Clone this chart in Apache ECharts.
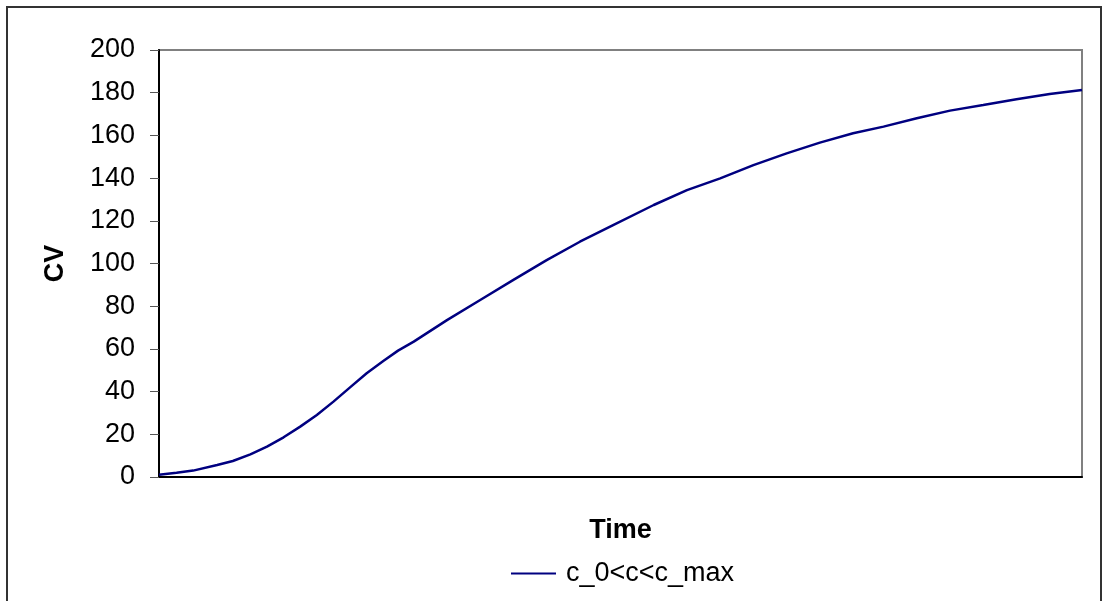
<!DOCTYPE html>
<html>
<head>
<meta charset="utf-8">
<script src="https://cdn.jsdelivr.net/npm/echarts@6/dist/echarts.min.js"></script>
<style>
  html, body { margin: 0; padding: 0; background: #fff; }
  #main { width: 1106px; height: 601px; }
</style>
</head>
<body>
<div id="main"></div>
<script>
// time steps (no labels on the x axis in the original, 0..100 is just the span)
var timeSteps = [0, 1.9, 3.7, 6.3, 8.0, 9.9, 11.7, 13.5, 15.3, 17.1, 18.9, 20.7, 22.5, 24.3,
  25.9, 27.6, 31.2, 34.8, 38.4, 42.0, 45.6, 49.2, 53.6, 57.2, 60.8, 64.4, 68.0, 71.6,
  75.2, 78.5, 82.1, 85.7, 89.3, 92.9, 96.5, 100];
// CV values
var cvValues = [1.0, 2.0, 3.0, 5.6, 7.5, 10.6, 14.2, 18.6, 23.6, 29.0, 35.3, 42.0, 48.6, 54.3,
  59.2, 63.4, 73.5, 82.9, 92.3, 101.6, 110.2, 118.0, 127.4, 134.4, 139.9, 146.1, 151.6, 156.6,
  161.0, 164.1, 168.0, 171.6, 174.2, 176.9, 179.4, 181.3];
var seriesName = 'c_0<c<c_max';

var myChart = echarts.init(document.getElementById('main'));

var pts = timeSteps.map(function (t, i) { return [t, cvValues[i]]; });

var font = '"Liberation Sans", Arial, sans-serif';

var option = {
  animation: false,
  textStyle: { fontFamily: font },
  graphic: [
    {
      type: 'rect',
      shape: { x: 7, y: 7, width: 1094, height: 700 },
      style: { fill: 'none', stroke: '#333', lineWidth: 2 },
      silent: true
    }
  ],
  grid: {
    left: 159, right: 24, top: 50, bottom: 124,
    show: true,
    borderColor: '#808080',
    borderWidth: 2
  },
  legend: {
    left: 506,
    top: 555,
    icon: 'rect',
    itemWidth: 45,
    itemHeight: 2,
    data: [seriesName],
    textStyle: { fontSize: 27, color: '#000', fontFamily: font, padding: [0, 0, 0, 5] }
  },
  xAxis: {
    type: 'value',
    min: 0,
    max: 100,
    name: 'Time',
    nameLocation: 'middle',
    nameGap: 40,
    nameTextStyle: { fontSize: 27, fontWeight: 'bold', color: '#000', fontFamily: font },
    axisLine: { show: true, onZero: false, lineStyle: { color: '#000', width: 2 } },
    axisTick: { show: false },
    axisLabel: { show: false },
    splitLine: { show: false }
  },
  yAxis: {
    type: 'value',
    min: 0,
    max: 200,
    interval: 20,
    name: 'CV',
    nameLocation: 'middle',
    nameGap: 90,
    nameRotate: 90,
    nameTextStyle: { fontSize: 27, fontWeight: 'bold', color: '#000', fontFamily: font },
    axisLine: { show: true, lineStyle: { color: '#000', width: 2 } },
    axisTick: { show: true, length: 9, lineStyle: { color: '#555', width: 1 } },
    axisLabel: { fontSize: 27, color: '#000', margin: 24, fontFamily: font },
    splitLine: { show: false }
  },
  series: [
    {
      name: seriesName,
      type: 'line',
      data: pts,
      showSymbol: false,
      symbol: 'none',
      lineStyle: { color: '#000080', width: 2.5 },
      itemStyle: { color: '#000080' }
    }
  ]
};

myChart.setOption(option);
</script>
</body>
</html>
